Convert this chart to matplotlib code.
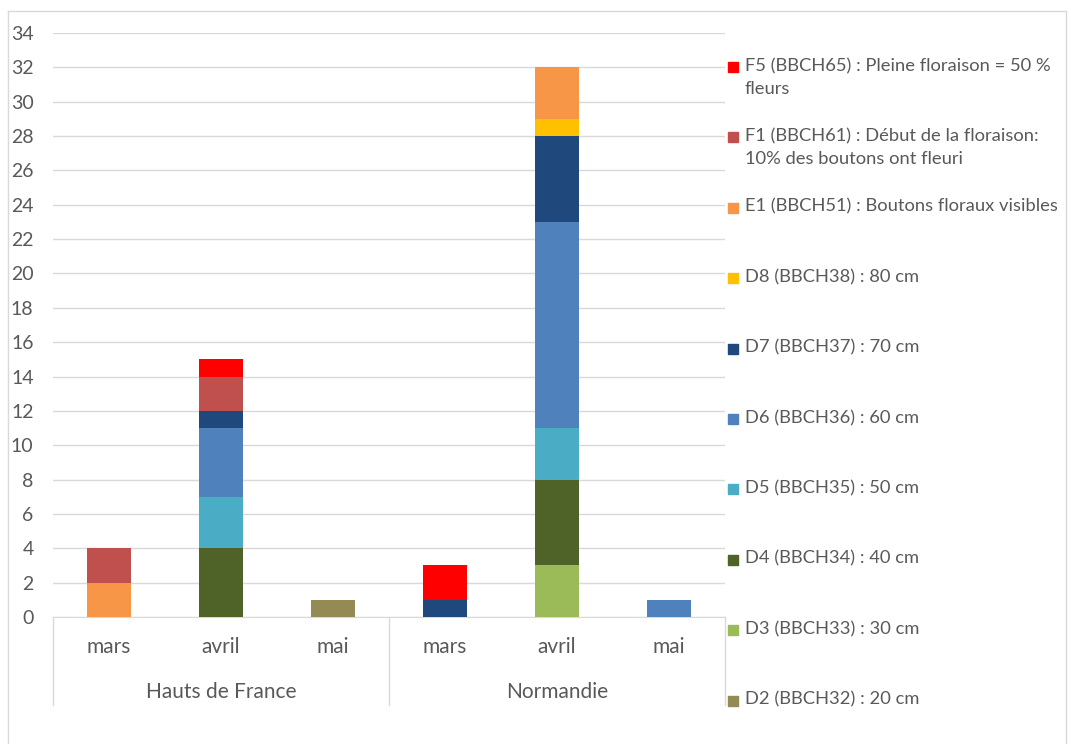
import numpy as np
import matplotlib
matplotlib.use('Agg')
import matplotlib.pyplot as plt
import matplotlib.transforms as mtransforms
from matplotlib.patches import Rectangle
from matplotlib.lines import Line2D

plt.rcParams['font.family'] = ['Lato', 'DejaVu Sans']

# catégories : région / mois
regions = ['Hauts de France', 'Normandie']
mois = ['mars', 'avril', 'mai']

# stades (ordre d'empilement, du bas vers le haut)
stades = ['D2 (BBCH32) : 20 cm',
          'D3 (BBCH33) : 30 cm',
          'D4 (BBCH34) : 40 cm',
          'D5 (BBCH35) : 50 cm',
          'D6 (BBCH36) : 60 cm',
          'D7 (BBCH37) : 70 cm',
          'D8 (BBCH38) : 80 cm',
          'E1 (BBCH51) : Boutons floraux visibles',
          'F1 (BBCH61) : Début de la floraison:\n10% des boutons ont fleuri',
          'F5 (BBCH65) : Pleine floraison = 50 %\nfleurs']
couleurs = ['#948A54', '#9BBB59', '#4F6228', '#4BACC6', '#4F81BD',
            '#1F497D', '#FFC000', '#F79646', '#C0504D', '#FF0000']

# valeurs : HdF mars, avril, mai, Normandie mars, avril, mai
D2 = [0, 0, 1, 0, 0, 0]
D3 = [0, 0, 0, 0, 3, 0]
D4 = [0, 4, 0, 0, 5, 0]
D5 = [0, 3, 0, 0, 3, 0]
D6 = [0, 4, 0, 0, 12, 1]
D7 = [0, 1, 0, 1, 5, 0]
D8 = [0, 0, 0, 0, 1, 0]
E1 = [2, 0, 0, 0, 3, 0]
F1 = [2, 2, 0, 0, 0, 0]
F5 = [0, 1, 0, 2, 0, 0]
series = [D2, D3, D4, D5, D6, D7, D8, E1, F1, F5]

gris = '#595959'
grille = '#D9D9D9'

fig = plt.figure(figsize=(10.71, 7.44), dpi=100)
W, H = 1071, 744
ax = fig.add_axes([53 / W, 1 - 617 / H, (725 - 53) / W, (617 - 33) / H])

x = np.arange(len(regions) * len(mois))
bas = np.zeros(len(x))
for vals, c in zip(series, couleurs):
    vals = np.array(vals, dtype=float)
    ax.bar(x, vals, 0.4, bottom=bas, color=c, zorder=3)
    bas += vals

ax.set_xlim(-0.5, len(x) - 0.5)
ax.set_ylim(0, 34)
ax.set_yticks(np.arange(0, 35, 2))
ax.tick_params(axis='y', length=0, pad=14, labelsize=14, labelcolor=gris)
ax.set_xticks([])
ax.grid(axis='y', color=grille, lw=1, zorder=0)
for s in ['top', 'right', 'left']:
    ax.spines[s].set_visible(False)
ax.spines['bottom'].set_color(grille)

# axe des catégories à deux niveaux
trans = mtransforms.blended_transform_factory(ax.transData, ax.transAxes)
for xi in [-0.5, 2.5, 5.5]:
    ax.add_line(Line2D([xi, xi], [0, -88 / 584], transform=trans,
                       color=grille, lw=1, clip_on=False))
for i, xi in enumerate(x):
    ax.text(xi, -30 / 584, mois[i % len(mois)], transform=trans,
            ha='center', va='center', fontsize=15, color=gris)
for j, r in enumerate(regions):
    ax.text(j * len(mois) + 1, -75 / 584, r, transform=trans,
            ha='center', va='center', fontsize=15, color=gris)

# légende (ordre inverse)
y0 = 67
for k, (lab, c) in enumerate(zip(stades[::-1], couleurs[::-1])):
    yp = y0 + k * 70.4
    fig.add_artist(Rectangle((728 / W, 1 - (yp + 5) / H), 10 / W, 10 / H,
                             transform=fig.transFigure, color=c))
    fig.text(745 / W, 1 - (yp - 9) / H, lab, ha='left', va='top',
             fontsize=13.2, color=gris, linespacing=1.5)

# cadre extérieur
fig.add_artist(Line2D([8 / W, 8 / W], [0, 1 - 11 / H], transform=fig.transFigure,
                      color=grille, lw=1))
fig.add_artist(Line2D([8 / W, 1066 / W], [1 - 11 / H, 1 - 11 / H],
                      transform=fig.transFigure, color=grille, lw=1))
fig.add_artist(Line2D([1066 / W, 1066 / W], [0, 1 - 11 / H],
                      transform=fig.transFigure, color=grille, lw=1))

plt.savefig('out.png', dpi=100)
